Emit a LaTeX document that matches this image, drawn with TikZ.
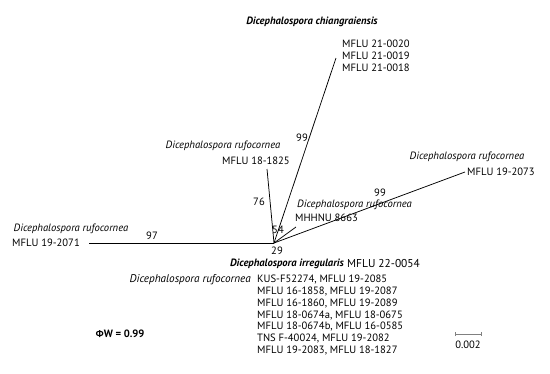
\documentclass[tikz,border=0pt]{standalone}
\usepackage{fontspec}
\setmainfont{PT Sans}
\newfontfamily\greekfont{Open Sans}
\usetikzlibrary{positioning}

\begin{document}
\begin{tikzpicture}[x=1pt,y=-1pt, every node/.style={font=\fontsize{10.6}{11.8}\selectfont, inner sep=0pt},
  edge/.style={line width=0.75pt},
  taxon/.style={font=\fontsize{10.6}{11.8}\selectfont\itshape},
  newtaxon/.style={font=\fontsize{10.6}{11.8}\selectfont\bfseries\itshape},
  bs/.style={font=\fontsize{10.6}{11.8}\selectfont}]
\useasboundingbox (0,0) rectangle (550,373);
% tips of the tree
\coordinate (root) at (274,243);
\coordinate (tchian) at (336,58);
\coordinate (t1825) at (267,169);
\coordinate (t8663) at (296,227);
\coordinate (t2073) at (465,172);
\coordinate (t2071) at (89,243);
% branches
\draw[edge] (root) -- (tchian);
\draw[edge] (root) -- (t1825);
\draw[edge] (root) -- (t8663);
\draw[edge] (root) -- (t2073);
\draw[edge] (root) -- (t2071);
% Dicephalospora chiangraiensis
\node[newtaxon] (chian) at (312,22) {Dicephalospora chiangraiensis};
\node[anchor=west, align=left] (chianlist) at (342,56) {MFLU 21-0020\\MFLU 21-0019\\MFLU 21-0018};
\node[bs] (b99a) at (302,138) {99};
% MFLU 18-1825
\node[taxon] (r1825) at (223,146) {Dicephalospora rufocornea};
\node[anchor=west] (m1825) at (222,161) {MFLU 18-1825};
\node[bs] (b76) at (259,202) {76};
% MHHNU 8663
\node[taxon, anchor=west] (r8663) at (297,205) {Dicephalospora rufocornea};
\node[anchor=west] (m8663) at (295,218) {MHHNU 8663};
\node[bs] (b54) at (278,230) {54};
% MFLU 19-2073
\node[taxon] (r2073) at (467,157) {Dicephalospora rufocornea};
\node[anchor=west] (m2073) at (467,172) {MFLU 19-2073};
\node[bs] (b99b) at (380,193) {99};
% MFLU 19-2071
\node[taxon] (r2071) at (71,229) {Dicephalospora rufocornea};
\node[anchor=east] (m2071) at (80,243) {MFLU 19-2071};
\node[bs] (b97) at (152,236) {97};
% Dicephalospora irregularis
\node[bs] (b29) at (277,251) {29};
\node[newtaxon, anchor=east] (irr) at (344,264) {Dicephalospora irregularis};
\node[anchor=west, font=\fontsize{11.4}{12}\selectfont] (mirr) at (347,264) {MFLU 22-0054};
\node[taxon, anchor=east, font=\fontsize{11.2}{11.8}\selectfont\itshape] (rlist) at (251,280) {Dicephalospora rufocornea};
\node[anchor=north west, align=left] (rufolist) at (257,275) {KUS-F52274, MFLU 19-2085\\MFLU 16-1858, MFLU 19-2087\\MFLU 16-1860, MFLU 19-2089\\MFLU 18-0674a, MFLU 18-0675\\MFLU 18-0674b, MFLU 16-0585\\TNS F-40024, MFLU 19-2082\\MFLU 19-2083, MFLU 18-1827};
% PHI test and scale
\node[font=\fontsize{10.6}{11.8}\selectfont\bfseries] (phi) at (120,334) {{\greekfont\fontsize{9.6}{11}\selectfont\bfseries Φ}W = 0.99};
\coordinate (sa) at (455,334);
\coordinate (sb) at (481,334);
\draw[gray, line width=0.7pt] (sa) -- (sb);
\draw[gray, line width=0.6pt] ([yshift=-2pt]sa) -- ([yshift=2pt]sa);
\draw[gray, line width=0.6pt] ([yshift=-2pt]sb) -- ([yshift=2pt]sb);
\node (scale) at (468,345) {0.002};
\end{tikzpicture}
\end{document}
